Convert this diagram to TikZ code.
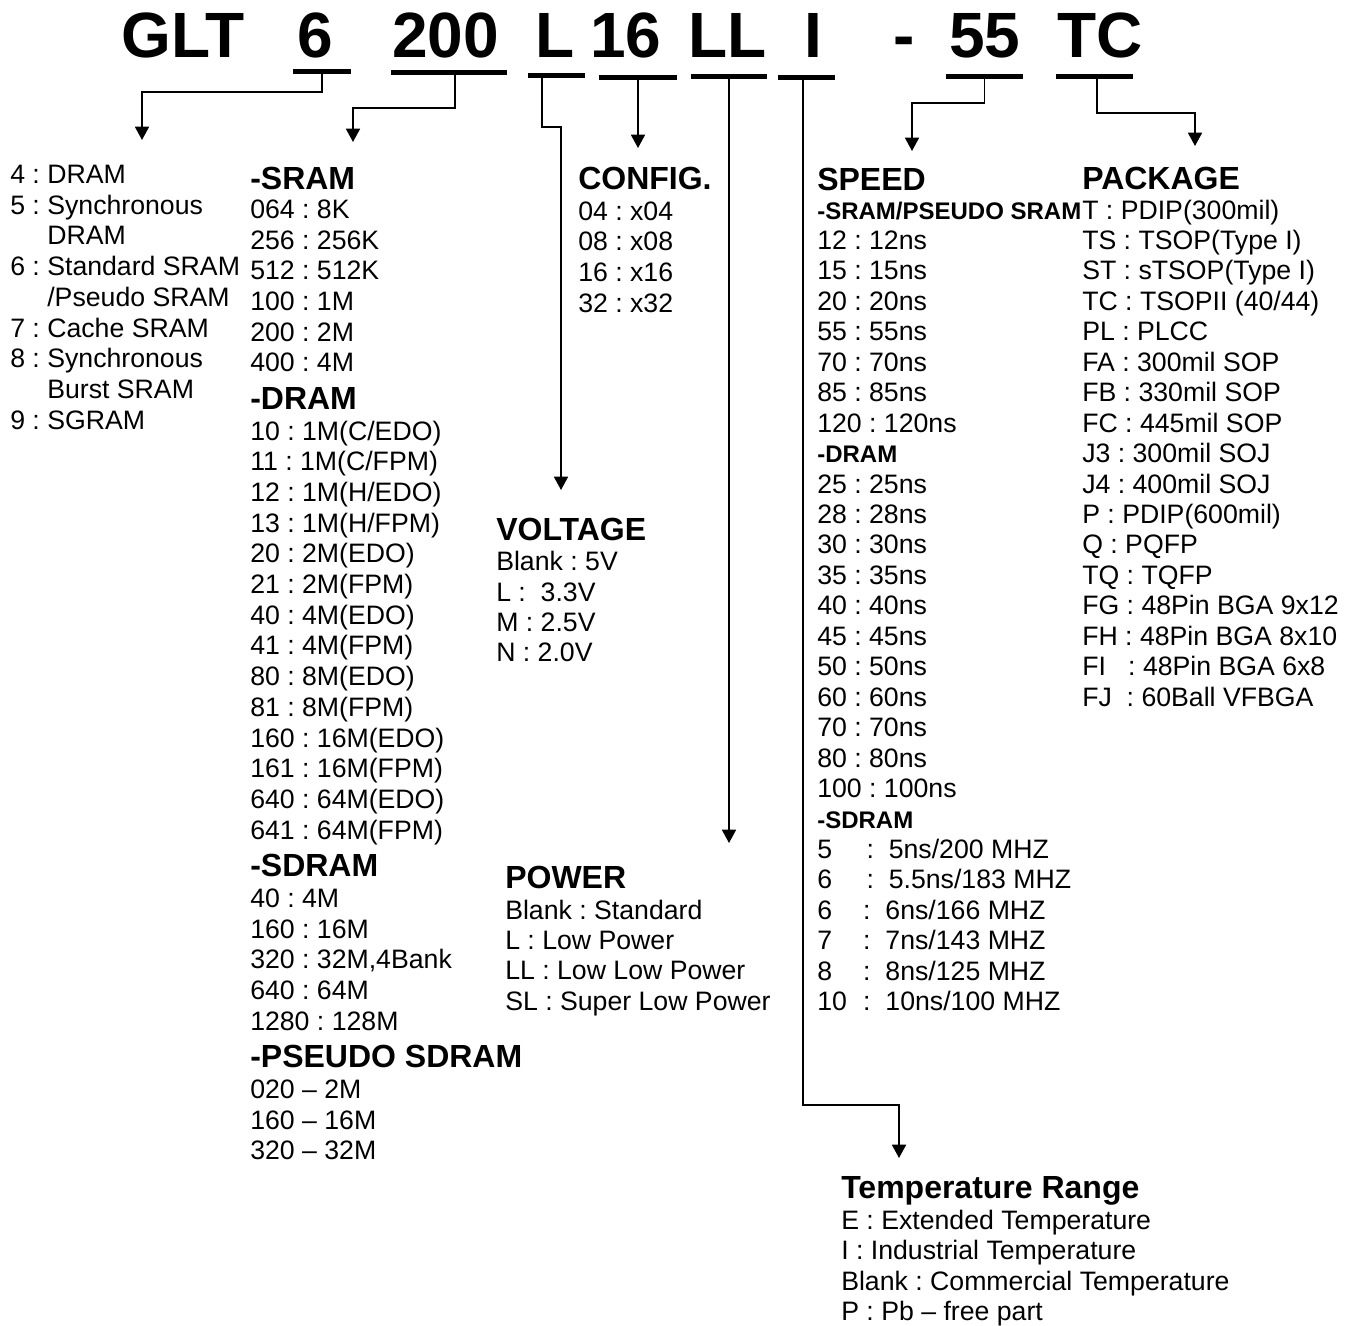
\documentclass[tikz,border=0pt]{standalone}
\usepackage{fontspec}
\setmainfont{Liberation Sans}
\usetikzlibrary{arrows.meta}
\frenchspacing
\tikzstyle{entry} = [anchor=base west, inner sep=0pt, font=\fontsize{20}{24}\selectfont]
\tikzstyle{head} = [entry, font=\bfseries\fontsize{24}{28}\selectfont]
\tikzstyle{subhead} = [entry, font=\bfseries\fontsize{18}{22}\selectfont]
\tikzstyle{codepart} = [entry, font=\bfseries\fontsize{48}{52}\selectfont]
\tikzstyle{underbar} = [fill=black, inner sep=0pt, minimum height=3.75pt]
\tikzstyle{arrow} = [line width=1.3pt, -{Triangle[length=10pt, width=10.5pt]}]
\newcommand\ItemList[5]{% name, x, first baseline, line step, items
    \foreach \txt [count=\k from 0] in {#5} {
        \node[entry] (#1-\k) at (#2, {#3+\k*#4}) {\txt};
    }
}
\newcommand\CodeBar[4]{% name, left, right, y
    \node[underbar, minimum width={(#3-#2)*0.75pt}] (#1) at ({(#2+#3)/2}, #4) {};
}

\begin{document}
\begin{tikzpicture}[x=0.75pt, y=-0.75pt]
\useasboundingbox (0,0) rectangle (1353,1325);

% Part number
\node[codepart] (glt) at (121,57) {GLT};
\node[codepart] (p6) at (297,57) {6};
\node[codepart] (p200) at (392,57) {200};
\node[codepart] (pL) at (535,57) {L};
\node[codepart] (p16) at (590,57) {16};
\node[codepart] (pLL) at (688,57) {LL};
\node[codepart] (pI) at (804,57) {I};
\node[codepart] (dash) at (893,57) {-};
\node[codepart] (p55) at (949,57) {55};
\node[codepart] (pTC) at (1057,57) {TC};

\CodeBar{bar6}{293}{351}{71.5}
\CodeBar{bar200}{391}{507}{72.5}
\CodeBar{barL}{528}{585}{75.5}
\CodeBar{bar16}{599}{677}{77}
\CodeBar{barLL}{691}{767}{76.5}
\CodeBar{barI}{778}{835}{77}
\CodeBar{bar55}{946}{1023}{76}
\CodeBar{barTC}{1056}{1133}{76}

% Device type
\ItemList{type}{10}{183.5}{30.7}{4 : DRAM, 5 : Synchronous, \phantom{5 : }DRAM, 6 : Standard SRAM, \phantom{6 : }/Pseudo SRAM, 7 : Cache SRAM, 8 : Synchronous, \phantom{8 : }Burst SRAM, 9 : SGRAM}

% Density
\node[head] (sram) at (250,189) {-SRAM};
\ItemList{sramd}{250}{218.3}{30.7}{064 : 8K, 256 : 256K, 512 : 512K, 100 : 1M, 200 : 2M, 400 : 4M}
\node[head] (dram) at (250,409.3) {-DRAM};
\ItemList{dramd}{250}{440}{30.7}{10 : 1M(C/EDO), 11 : 1M(C/FPM), 12 : 1M(H/EDO), 13 : 1M(H/FPM), 20 : 2M(EDO), 21 : 2M(FPM), 40 : 4M(EDO), 41 : 4M(FPM), 80 : 8M(EDO), 81 : 8M(FPM), 160 : 16M(EDO), 161 : 16M(FPM), 640 : 64M(EDO), 641 : 64M(FPM)}
\node[head] (sdram) at (250,876.7) {-SDRAM};
\ItemList{sdramd}{250}{907.4}{30.7}{40 : 4M, 160 : 16M, {320 : 32M,4Bank}, 640 : 64M, 1280 : 128M}
\node[head] (psdram) at (250,1067.8) {-PSEUDO SDRAM};
\ItemList{psdramd}{250}{1098.5}{30.7}{020 – 2M, 160 – 16M, 320 – 32M}

% Configuration, voltage, power
\node[head] (config) at (578,189) {CONFIG.};
\ItemList{cfg}{578}{220}{30.7}{04 : x04, 08 : x08, 16 : x16, 32 : x32}
\node[head] (voltage) at (496,540) {VOLTAGE};
\ItemList{volt}{496}{570.7}{30.4}{Blank : 5V, L :~~3.3V, M : 2.5V, N : 2.0V}
\node[head] (power) at (505,888) {POWER};
\ItemList{pwr}{505}{919}{30.45}{Blank : Standard, L : Low Power, LL : Low Low Power, SL : Super Low Power}

% Speed
\node[head] (speed) at (817,190) {SPEED};
\node[subhead] (spdsram) at (817,219) {-SRAM/PSEUDO SRAM};
\ItemList{sramspd}{817}{249.45}{30.45}{12 : 12ns, 15 : 15ns, 20 : 20ns, 55 : 55ns, 70 : 70ns, 85 : 85ns, 120 : 120ns}
\node[subhead] (spddram) at (817,462.6) {-DRAM};
\ItemList{dramspd}{817}{493.05}{30.45}{25 : 25ns, 28 : 28ns, 30 : 30ns, 35 : 35ns, 40 : 40ns, 45 : 45ns, 50 : 50ns, 60 : 60ns, 70 : 70ns, 80 : 80ns, 100 : 100ns}
\node[subhead] (spdsdram) at (817,828) {-SDRAM};
\ItemList{sdramspd}{817}{858.45}{30.45}{\makebox[37pt][l]{5}:~~5ns/200 MHZ, \makebox[37pt][l]{6}:~~5.5ns/183 MHZ, \makebox[34.5pt][l]{6}:~~6ns/166 MHZ, \makebox[34.5pt][l]{7}:~~7ns/143 MHZ, \makebox[34.5pt][l]{8}:~~8ns/125 MHZ, \makebox[34.5pt][l]{10}:~~10ns/100 MHZ}

% Package
\node[head] (package) at (1082,189) {PACKAGE};
\ItemList{pkg}{1082}{219}{30.45}{T : PDIP(300mil), TS : TSOP(Type I), ST : sTSOP(Type I), TC : TSOPII (40/44), PL : PLCC, FA : 300mil SOP, FB : 330mil SOP, FC : 445mil SOP, J3 : 300mil SOJ, J4 : 400mil SOJ, P : PDIP(600mil), Q : PQFP, TQ : TQFP, FG : 48Pin BGA 9x12, FH : 48Pin BGA 8x10, FI~~ : 48Pin BGA 6x8, FJ~ : 60Ball VFBGA}

% Temperature
\node[head] (temp) at (841,1198) {Temperature Range};
\ItemList{tmp}{841}{1229.5}{30.45}{E : Extended Temperature, I : Industrial Temperature, Blank : Commercial Temperature, P : Pb – free part}

% Arrow ends
\coordinate (toType) at (142,140);
\coordinate (toDensity) at (353,142);
\coordinate (toVoltage) at (561,490);
\coordinate (toConfig) at (638,148);
\coordinate (toPower) at (729,843);
\coordinate (toTemp) at (899,1158);
\coordinate (toSpeed) at (912,151);
\coordinate (toPackage) at (1195,146);

% Arrows
\draw[arrow] (bar6.south) -- ++(0,18) -| (toType);
\draw[arrow] ([xshift=4.5pt]bar200.south) -- ++(0,33) -| (toDensity);
\draw[arrow] ([xshift=-10.9pt]barL.south) -- ++(0,49) -| (toVoltage);
\draw[arrow] (bar16.south) -- (toConfig);
\draw[arrow] (barLL.south) -- (toPower);
\draw[arrow] ([xshift=-2.6pt]barI.south) -- ++(0,1025.5) -| (toTemp);
\draw[arrow] (bar55.south) -- ++(0,24.5) -| (toSpeed);
\draw[arrow] ([xshift=1.9pt]barTC.south) -- ++(0,34.5) -| (toPackage);

\end{tikzpicture}
\end{document}
